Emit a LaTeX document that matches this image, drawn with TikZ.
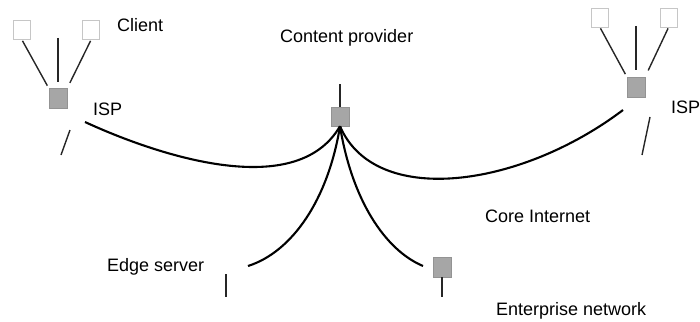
\documentclass[tikz,border=0pt]{standalone}
\usepackage{fontspec}
\setmainfont{Liberation Sans}
\usepackage{tikz}
\usetikzlibrary{positioning, calc}

\tikzset{
    router/.style={draw=gray!85, fill=gray!70, minimum width=18pt, minimum height=20pt, inner sep=0pt},
    host/.style={draw=gray!45, fill=white, line width=0.9pt, minimum width=17pt, minimum height=19pt, inner sep=0pt},
    wire/.style={draw=black!85, line width=1.4pt},
    trunk/.style={draw=black, line width=2.1pt},
    tag/.style={font=\fontsize{18}{20}\selectfont, anchor=base west, inner sep=0pt}
}

\begin{document}
\begin{tikzpicture}[x=1pt, y=-1pt]
    \useasboundingbox (0,0) rectangle (700,321);

    % Left access network
    \node[host] (hostLa) at (22,30) {};
    \node[host] (hostLb) at (91,30) {};
    \node[router] (ispL) at (58,98.5) {};
    \coordinate (hostLm) at (58,38);
    \coordinate (ispLup) at (70,130);
    \coordinate (ispLdown) at (61,155);
    \draw[wire, shorten <=1pt, shorten >=3pt] (hostLa.south) -- (ispL.north west);
    \draw[wire, shorten >=6pt] (hostLm) -- (ispL.north);
    \draw[wire, shorten <=1pt, shorten >=6pt] (hostLb.south) -- (ispL.north east);
    \draw[wire] (ispLup) -- (ispLdown);

    % Right access network
    \node[host] (hostRa) at (600,17.5) {};
    \node[host] (hostRb) at (668.5,17.5) {};
    \node[router] (ispR) at (636,87) {};
    \coordinate (hostRm) at (636,26);
    \coordinate (ispRup) at (650,117);
    \coordinate (ispRdown) at (642,155);
    \draw[wire, shorten <=1pt, shorten >=3pt] (hostRa.south) -- (ispR.north west);
    \draw[wire, shorten >=7pt] (hostRm) -- (ispR.north);
    \draw[wire, shorten <=1pt, shorten >=7pt] (hostRb.south) -- (ispR.north east);
    \draw[wire] (ispRup) -- (ispRdown);

    % Content provider and core links
    \node[router, minimum height=19pt] (cp) at (340,116.5) {};
    \coordinate (cpUp) at (340,84);
    \draw[wire] (cpUp) -- (cp.north);
    \coordinate (coreL) at (85,122);
    \coordinate (coreR) at (623,110);
    \coordinate (edgeEnd) at (248,266);
    \coordinate (entEnd) at (423,266);
    \draw[trunk] (coreL) .. controls (150,152) and (295,204) .. (cp.south);
    \draw[trunk] (cp.south) .. controls (375,208) and (520,188) .. (coreR);
    \draw[trunk] (cp.south) .. controls (328,200) and (292,252) .. (edgeEnd);
    \draw[trunk] (cp.south) .. controls (352,200) and (385,250) .. (entEnd);

    % Edge server and enterprise network
    \node[router] (ent) at (442,267) {};
    \coordinate (edgeUp) at (226,274);
    \coordinate (edgeDown) at (226,297);
    \coordinate (entDown) at (442,297);
    \draw[wire] (edgeUp) -- (edgeDown);
    \draw[wire] (ent.south) -- (entDown);

    % Labels
    \node[tag] (lblClient) at (117,31) {Client};
    \node[tag] (lblIspL) at (93,115) {ISP};
    \node[tag] (lblCp) at (280,43) {Content provider};
    \node[tag] (lblIspR) at (671,113) {ISP};
    \node[tag] (lblCore) at (485,222) {Core Internet};
    \node[tag] (lblEdge) at (107,271) {Edge server};
    \node[tag] (lblEnt) at (496,315) {Enterprise network};
\end{tikzpicture}
\end{document}
